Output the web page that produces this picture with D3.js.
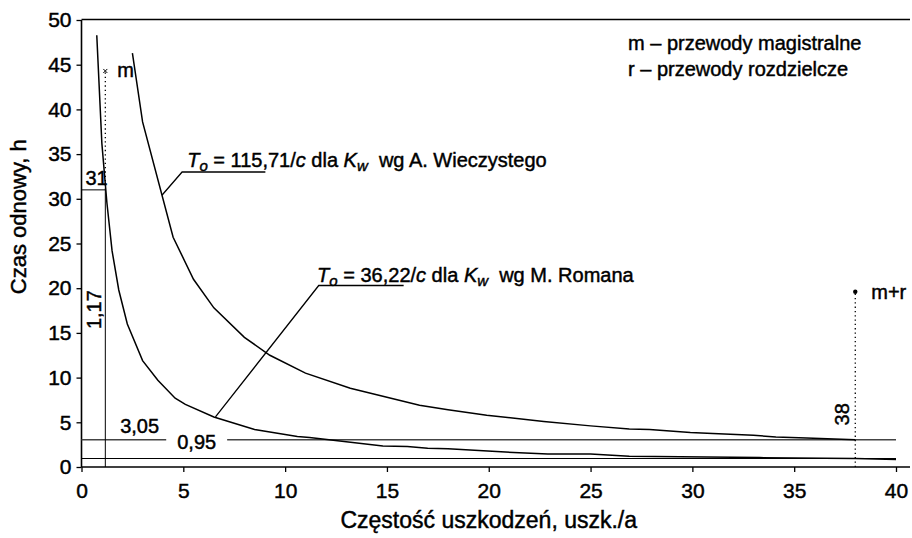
<!DOCTYPE html>
<html>
<head>
<meta charset="utf-8">
<script src="https://cdn.jsdelivr.net/npm/d3@7"></script>
<style>
  html, body { margin: 0; padding: 0; background: #fff; }
  svg { display: block; font-family: "Liberation Sans", Arial, sans-serif; }
  text { fill: #000; stroke: #000; stroke-width: 0.45px; white-space: pre; }
</style>
</head>
<body>
<svg id="chart" width="912" height="538"></svg>
<script>
// Czas odnowy w funkcji częstości uszkodzeń
const xTicks = [0, 5, 10, 15, 20, 25, 30, 35, 40];
const yTicks = [0, 5, 10, 15, 20, 25, 30, 35, 40, 45, 50];

// T_o = 115,71/c  (K_w wg A. Wieczystego)
const wieczystyC = [2.5, 3.0, 4.5, 5.5, 6.5, 8.0, 9.25, 11.0, 13.2, 16.6, 18.0, 19.9, 22.7, 25.0, 26.9, 27.9, 29.9, 31.0, 33.0, 34.1, 35.6, 38.0];
const wieczystyT = [46.3, 38.6, 25.7, 21.0, 17.8, 14.5, 12.5, 10.5, 8.8, 6.9, 6.4, 5.8, 5.1, 4.6, 4.25, 4.2, 3.87, 3.75, 3.55, 3.35, 3.25, 3.05];

// T_o = 36,22/c  (K_w wg M. Romana)
const romanC = [0.75, 1.0, 1.25, 1.5, 1.83, 2.25, 3.0, 3.75, 4.6, 5.1, 6.5, 8.5, 10.6, 11.2, 14.8, 16.0, 17.0, 18.0, 20.6, 22.9, 25.0, 26.9, 29.4, 33.3, 38.0, 40.0];
const romanT = [48.3, 36.2, 29.5, 24.2, 19.8, 16.0, 11.9, 9.7, 7.7, 7.0, 5.6, 4.2, 3.4, 3.3, 2.35, 2.3, 2.1, 2.05, 1.7, 1.45, 1.45, 1.2, 1.15, 1.05, 0.95, 0.85];

// przewody magistralne (m) i magistralne + rozdzielcze (m+r)
const mC = 1.17, mT = 31, mTop = 44.3;
const mrC = 38, mrTop = 19.6;
const levelHigh = 3.05, levelLow = 0.95;

const legendLines = ["m – przewody magistralne", "r – przewody rozdzielcze"];

const svg = d3.select("#chart");
const FS = 20;

const x = d3.scaleLinear().domain([0, 40]).range([81.5, 896]);
const y = d3.scaleLinear().domain([0, 50]).range([467, 20]);
const xEnd = 910;

// axes
const gx = svg.append("g").attr("transform", `translate(0,${y(0)})`)
  .call(d3.axisBottom(x).tickValues(xTicks).tickSize(5).tickSizeOuter(0).tickPadding(11));
const gy = svg.append("g").attr("transform", `translate(${x(0)},0)`)
  .call(d3.axisLeft(y).tickValues(yTicks).tickSize(5).tickSizeOuter(0).tickPadding(5));
[gx, gy].forEach(g => {
  g.select(".domain").remove();
  g.selectAll(".tick line").attr("stroke", "#000").attr("stroke-width", 1.3);
  g.selectAll(".tick text").attr("font-size", 21).attr("font-family", "Liberation Sans, Arial, sans-serif").attr("fill", "#000");
});

// frame: y axis, x axis, top edge
svg.append("line").attr("x1", x(0)).attr("x2", x(0)).attr("y1", y(50)).attr("y2", y(0))
  .attr("stroke", "#000").attr("stroke-width", 1.6);
svg.append("line").attr("x1", x(0)).attr("x2", xEnd).attr("y1", y(0)).attr("y2", y(0))
  .attr("stroke", "#000").attr("stroke-width", 1.6);
svg.append("line").attr("x1", x(0)).attr("x2", xEnd).attr("y1", y(50) - 0.5).attr("y2", y(50) - 0.5)
  .attr("stroke", "#000").attr("stroke-width", 1.4);

// reference levels
svg.append("line").attr("x1", x(0)).attr("x2", x(40)).attr("y1", y(levelHigh)).attr("y2", y(levelHigh))
  .attr("stroke", "#444").attr("stroke-width", 1.6);
svg.append("line").attr("x1", x(0)).attr("x2", x(40)).attr("y1", y(levelLow)).attr("y2", y(levelLow))
  .attr("stroke", "#000").attr("stroke-width", 1);

// 31 / 1,17 guide lines
svg.append("line").attr("x1", x(0)).attr("x2", x(mC)).attr("y1", y(mT)).attr("y2", y(mT))
  .attr("stroke", "#000").attr("stroke-width", 1);
svg.append("line").attr("x1", x(mC)).attr("x2", x(mC)).attr("y1", y(0)).attr("y2", y(mT))
  .attr("stroke", "#000").attr("stroke-width", 1);
// dotted marker line for m
svg.append("line").attr("x1", x(mC)).attr("x2", x(mC)).attr("y1", y(mT)).attr("y2", y(mTop))
  .attr("stroke", "#000").attr("stroke-width", 1.3).attr("stroke-dasharray", "1.3,3");
const mx = x(mC), my = y(mTop);
svg.append("path").attr("d", `M${mx-2},${my-2}L${mx+2},${my+2}M${mx-2},${my+2}L${mx+2},${my-2}`)
  .attr("stroke", "#000").attr("stroke-width", 1);
svg.append("text").attr("x", mx + 12).attr("y", my + 6).attr("font-size", FS).text("m");

// dotted marker line for m+r
svg.append("line").attr("x1", x(mrC)).attr("x2", x(mrC)).attr("y1", y(0)).attr("y2", y(mrTop))
  .attr("stroke", "#000").attr("stroke-width", 1.3).attr("stroke-dasharray", "1.3,3");
svg.append("circle").attr("cx", x(mrC)).attr("cy", y(mrTop)).attr("r", 2.2).attr("fill", "#000");
svg.append("text").attr("x", x(mrC) + 16).attr("y", y(mrTop) + 7).attr("font-size", FS).text("m+r");

// curves
const line = d3.line().x(d => x(d[0])).y(d => y(d[1]));
svg.append("path").datum(d3.zip(wieczystyC, wieczystyT)).attr("d", line)
  .attr("fill", "none").attr("stroke", "#000").attr("stroke-width", 1.5);
svg.append("path").datum(d3.zip(romanC, romanT)).attr("d", line)
  .attr("fill", "none").attr("stroke", "#000").attr("stroke-width", 1.5);

// value labels
svg.append("text").attr("x", x(0) + 4).attr("y", y(mT) - 5).attr("font-size", FS).text("31");
svg.append("text").attr("transform", `translate(${x(mC) - 4},${y(17.6)}) rotate(-90)`)
  .attr("text-anchor", "middle").attr("font-size", FS).text("1,17");
svg.append("text").attr("x", x(1.9)).attr("y", y(levelHigh) - 7).attr("font-size", FS).text("3,05");
const lowLbl = svg.append("text").attr("x", x(4.7)).attr("y", y(levelHigh) + 9).attr("font-size", FS).text("0,95");
const bb = lowLbl.node().getBBox();
svg.insert("rect", () => lowLbl.node()).attr("x", bb.x - 11).attr("y", y(levelHigh) - 2)
  .attr("width", bb.width + 22).attr("height", 4).attr("fill", "#fff");
svg.append("text").attr("transform", `translate(${x(mrC) - 6},${y(5.9)}) rotate(-90)`)
  .attr("text-anchor", "middle").attr("font-size", FS).text("38");

// annotations with leaders
function annotate(pts, tx, ty, coef, author) {
  svg.append("path").datum(pts).attr("d", line)
    .attr("fill", "none").attr("stroke", "#000").attr("stroke-width", 1.3);
  const t = svg.append("text").attr("x", x(tx)).attr("y", y(ty)).attr("font-size", FS);
  t.append("tspan").attr("font-style", "italic").text("T");
  t.append("tspan").attr("font-style", "italic").attr("font-size", 15).attr("dy", 4).text("o");
  t.append("tspan").attr("dy", -4).text(` = ${coef}/`);
  t.append("tspan").attr("font-style", "italic").text("c");
  t.append("tspan").text(" dla ");
  t.append("tspan").attr("font-style", "italic").text("K");
  t.append("tspan").attr("font-style", "italic").attr("font-size", 15).attr("dy", 4).text("w");
  t.append("tspan").attr("dy", -4).text(`  wg ${author}`);
}
annotate([[3.95, 30.4], [4.94, 33.0], [9.03, 33.0]], 5.19, 33.6, "115,71", "A. Wieczystego");
annotate([[6.58, 5.6], [11.65, 20.3], [15.82, 20.3]], 11.57, 20.7, "36,22", "M. Romana");

// legend
legendLines.forEach((s, i) => {
  svg.append("text").attr("x", 628).attr("y", 50 + i * 26).attr("font-size", FS).text(s);
});

// axis titles
svg.append("text").attr("x", (x(0) + x(40)) / 2).attr("y", 528).attr("text-anchor", "middle")
  .attr("font-size", 23).text("Częstość uszkodzeń, uszk./a");
svg.append("text").attr("transform", `translate(26,${y(28)}) rotate(-90)`).attr("text-anchor", "middle")
  .attr("font-size", 22).text("Czas odnowy, h");
</script>
</body>
</html>
